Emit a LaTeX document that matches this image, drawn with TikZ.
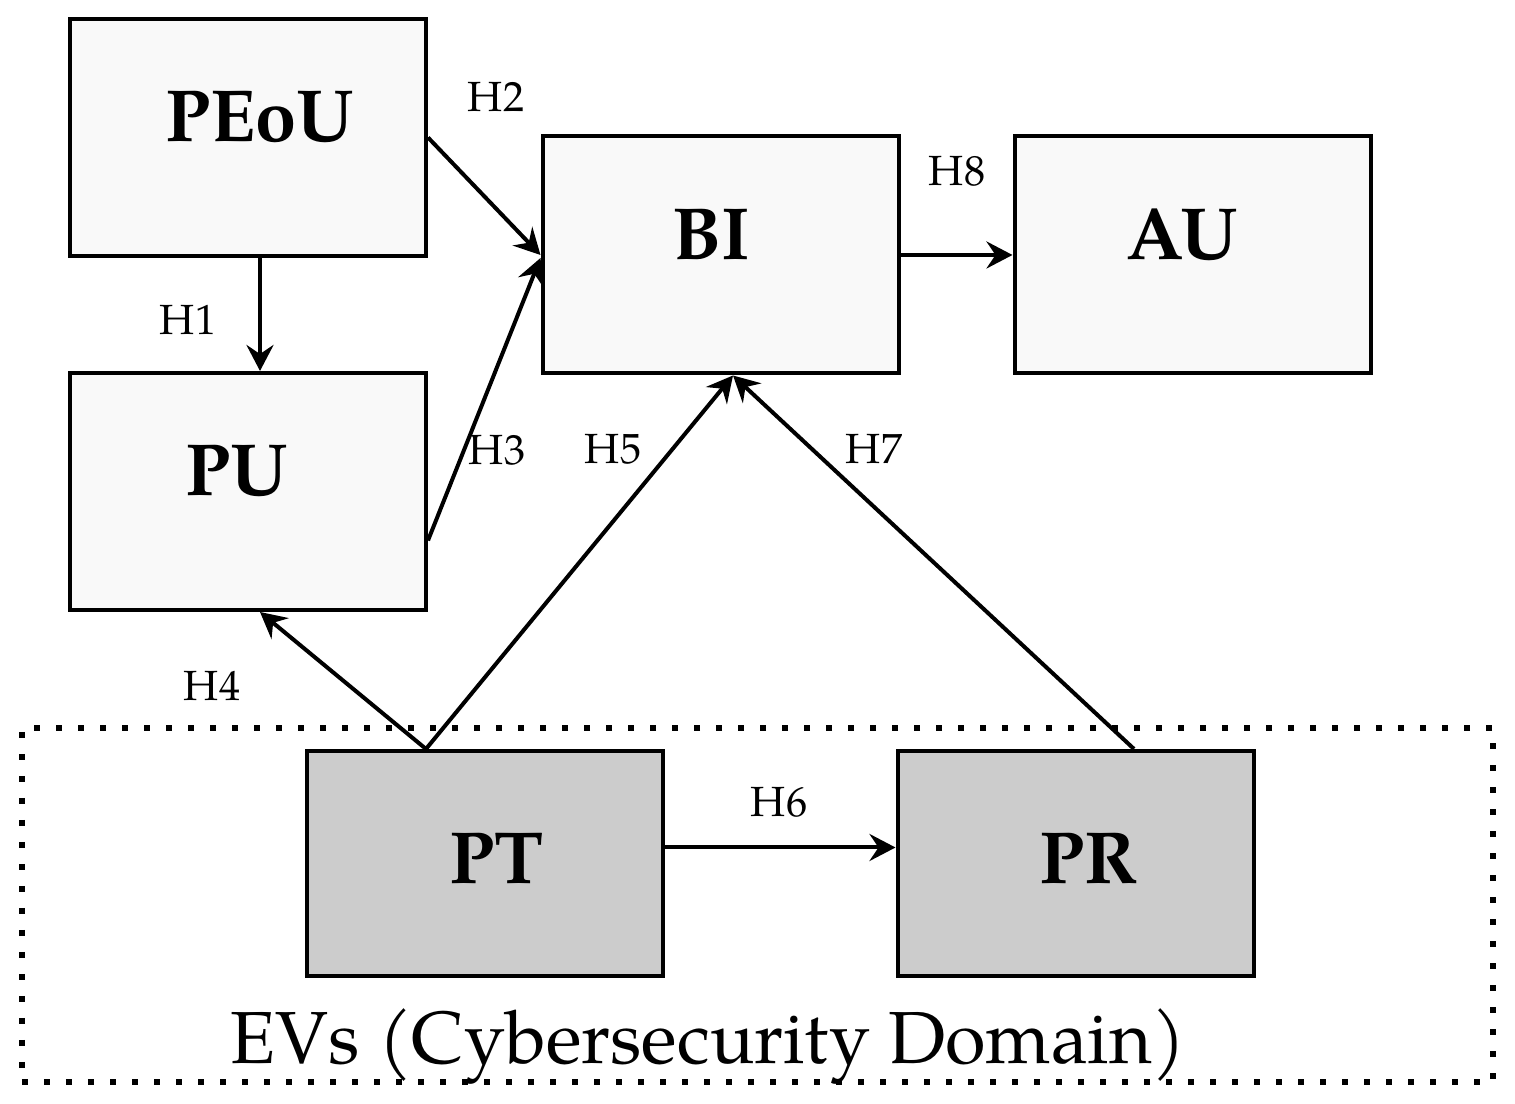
\documentclass[tikz,border=0pt]{standalone}
\usepackage{fontspec}
\setmainfont{TeX Gyre Pagella}
\usetikzlibrary{arrows.meta, positioning, calc}

\definecolor{topfill}{HTML}{F9F9F9}
\definecolor{evfill}{HTML}{CCCCCC}

\begin{document}
\begin{tikzpicture}[
    box/.style={
        rectangle, draw, line width=0.04cm, minimum width=3.56cm,
        inner sep=0pt, text height=0.51cm, font=\fontsize{21}{25}\selectfont\bfseries
    },
    topbox/.style={box, fill=topfill, minimum height=2.37cm, text depth=0.42cm},
    evbox/.style={box, fill=evfill, minimum height=2.25cm, text depth=0.1cm},
    padl/.style={execute at begin node={\hspace*{#1}}},
    padr/.style={execute at end node={\hspace*{#1}}},
    hyp/.style={font=\fontsize{12}{14}\selectfont},
    link/.style={-{Stealth[length=0.26cm, width=0.27cm, inset=0.09cm]}, line width=0.04cm},
    evframe/.style={draw, line width=0.06cm, dash pattern=on 0.06cm off 0.16cm},
]
\useasboundingbox (0,0) rectangle (15.15,-11.04);

% Domain frame
\node[evframe, minimum width=14.71cm, minimum height=3.54cm, inner sep=0pt] (dom) at (7.575,-9.05) {};
\node[font=\fontsize{21}{25}\selectfont, anchor=base] (domlbl) at (7.08,-10.64) {EVs (Cybersecurity Domain)};

% Constructs
\node[topbox, padl=0.24cm] (peou) at (2.48,-1.375) {PEoU};
\node[topbox, padr=0.18cm] (bi) at (7.205,-2.55) {BI};
\node[topbox, padr=0.20cm] (au) at (11.925,-2.55) {AU};
\node[topbox, padr=0.22cm] (pu) at (2.48,-4.915) {PU};
\node[evbox, padl=0.24cm] (pt) at (4.845,-8.635) {PT};
\node[evbox, padl=0.26cm] (pr) at (10.755,-8.635) {PR};

% Paths
\draw[link] ([xshift=0.12cm]peou.south) -- ([xshift=0.12cm]pu.north);
\draw[link] (peou.east) -- (bi.west);
\draw[link] ([yshift=-0.49cm]pu.east) -- ([yshift=-0.03cm]bi.west);
\draw[link] ([xshift=-0.585cm]pt.north) -- ([xshift=0.12cm]pu.south);
\draw[link] ([xshift=-0.585cm]pt.north) -- ([xshift=0.125cm]bi.south);
\draw[link] ([yshift=0.16cm]pt.east) -- ([yshift=0.16cm]pr.west);
\draw[link] ([xshift=0.585cm]pr.north) -- ([xshift=0.125cm]bi.south);
\draw[link] (bi.east) -- (au.west);

% Hypotheses
\node[hyp] (h1) at (1.88,-3.20) {H1};
\node[hyp] (h2) at (4.96,-0.97) {H2};
\node[hyp] (h3) at (4.97,-4.50) {H3};
\node[hyp] (h4) at (2.12,-6.86) {H4};
\node[hyp] (h5) at (6.13,-4.49) {H5};
\node[hyp] (h6) at (7.79,-8.02) {H6};
\node[hyp] (h7) at (8.74,-4.49) {H7};
\node[hyp] (h8) at (9.57,-1.71) {H8};

\end{tikzpicture}
\end{document}
